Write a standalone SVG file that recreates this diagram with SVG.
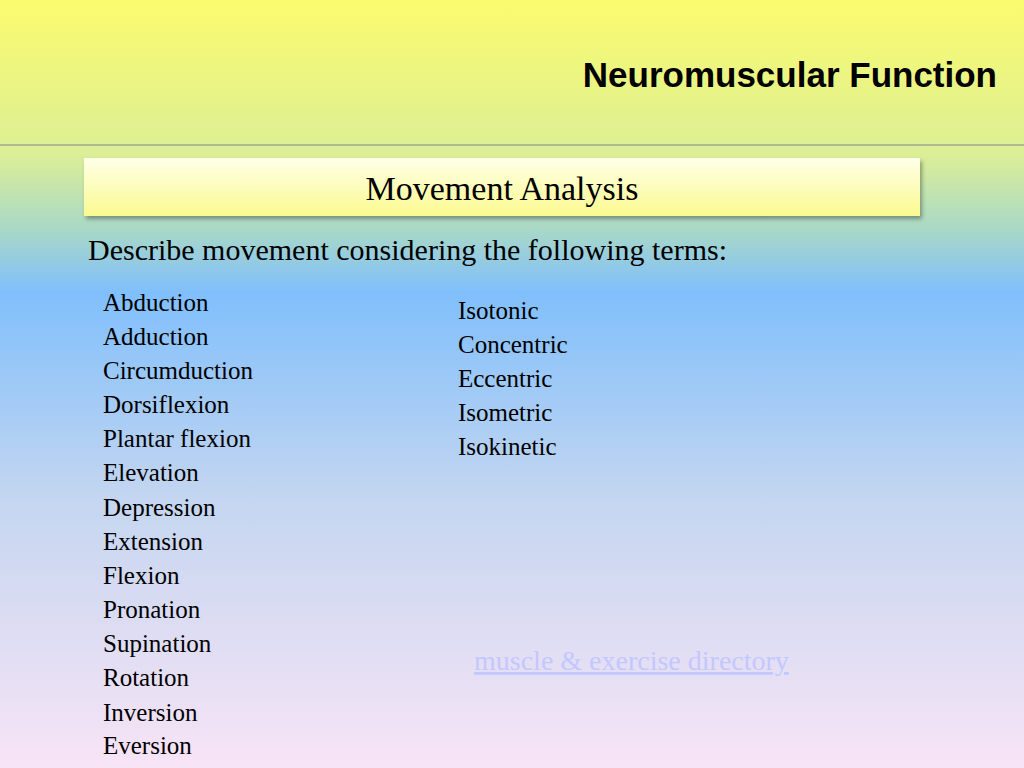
<svg xmlns="http://www.w3.org/2000/svg" width="1024" height="768" viewBox="0 0 1024 768">
<defs>
<linearGradient id="bg" x1="0" y1="0" x2="0" y2="1">
<stop offset="0" stop-color="#fbfb6e"/>
<stop offset="0.2" stop-color="#dcef96"/>
<stop offset="0.3" stop-color="#a8d8c8"/>
<stop offset="0.38" stop-color="#80bffc"/>
<stop offset="0.65" stop-color="#c4d6f0"/>
<stop offset="1" stop-color="#f8e4f6"/>
</linearGradient>
<linearGradient id="box" x1="0" y1="0" x2="0" y2="1">
<stop offset="0" stop-color="#ffffe8"/>
<stop offset="1" stop-color="#fafa90"/>
</linearGradient>
<filter id="sh" x="-5%" y="-20%" width="110%" height="150%"><feDropShadow dx="2" dy="3" stdDeviation="2" flood-opacity="0.35"/></filter>
<style>
.s{font-family:"Liberation Serif",serif;fill:#000}
.l{font-size:25px}
</style>
</defs>
<rect width="1024" height="768" fill="url(#bg)"/>
<line x1="0" y1="145" x2="1024" y2="145" stroke="#a0a890" stroke-width="1.5"/>
<text x="997" y="87" text-anchor="end" font-family="'Liberation Sans',sans-serif" font-weight="bold" font-size="35">Neuromuscular Function</text>
<g id="header">
<rect x="84" y="158" width="836" height="58" fill="url(#box)" filter="url(#sh)"/>
<text class="s" x="502" y="200" text-anchor="middle" font-size="34">Movement Analysis</text>
</g>
<text class="s" x="88" y="260" font-size="30">Describe movement considering the following terms:</text>
<g class="s l">
<text x="103" y="311">Abduction</text>
<text x="103" y="345">Adduction</text>
<text x="103" y="379">Circumduction</text>
<text x="103" y="413">Dorsiflexion</text>
<text x="103" y="447">Plantar flexion</text>
<text x="103" y="481">Elevation</text>
<text x="103" y="516">Depression</text>
<text x="103" y="550">Extension</text>
<text x="103" y="584">Flexion</text>
<text x="103" y="618">Pronation</text>
<text x="103" y="652">Supination</text>
<text x="103" y="686">Rotation</text>
<text x="103" y="721">Inversion</text>
<text x="103" y="754">Eversion</text>
<text x="458" y="319">Isotonic</text>
<text x="458" y="353">Concentric</text>
<text x="458" y="387">Eccentric</text>
<text x="458" y="421">Isometric</text>
<text x="458" y="455">Isokinetic</text>
</g>
<text x="474" y="670" font-family="'Liberation Serif',serif" font-size="28" fill="#c2c8ff" text-decoration="underline">muscle &amp; exercise directory</text>
</svg>
